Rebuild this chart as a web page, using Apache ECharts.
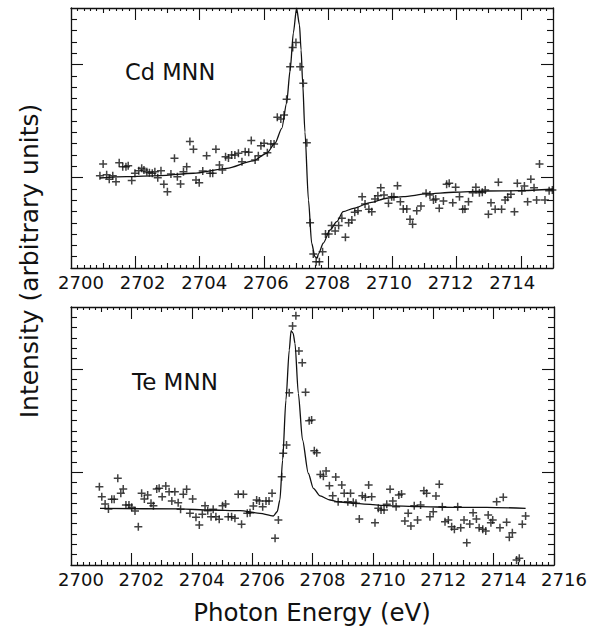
<!DOCTYPE html>
<html><head><meta charset="utf-8">
<script src="https://cdn.jsdelivr.net/npm/echarts@6/dist/echarts.min.js"></script>
<style>html,body{margin:0;padding:0;background:#fff}#c{width:600px;height:632px}</style>
</head><body><div id="c"></div>
<script>
// ---------- Cd MNN (top panel) ----------
const cdEnergy = [2700.90,2701.00,2701.11,2701.19,2701.30,2701.40,2701.50,2701.61,2701.71,2701.78,
2701.89,2701.99,2702.11,2702.20,2702.27,2702.36,2702.44,2702.53,2702.61,2702.70,
2702.80,2702.89,2703.00,2703.11,2703.22,2703.31,2703.41,2703.50,2703.60,2703.70,
2703.81,2703.89,2703.99,2704.10,2704.22,2704.33,2704.41,2704.51,2704.62,2704.71,
2704.81,2704.90,2705.00,2705.10,2705.21,2705.32,2705.42,2705.53,2705.61,2705.73,
2705.83,2705.91,2706.01,2706.11,2706.22,2706.32,2706.42,2706.53,2706.63,2706.71,
2706.82,2706.90,2707.00,2707.13,2707.23,2707.34,2707.44,2707.54,2707.63,2707.73,2707.83,
2707.92,2708.02,2708.11,2708.22,2708.33,
2708.43,2708.54,2708.64,2708.74,2708.83,2708.93,2709.06,2709.15,2709.27,2709.36,
2709.46,2709.55,2709.64,2709.74,2709.88,2709.98,2710.05,2710.16,2710.25,2710.34,
2710.45,2710.55,2710.63,2710.76,2710.89,2711.05,2711.17,2711.28,2711.35,2711.46,
2711.59,2711.69,2711.77,2711.88,2711.97,2712.09,2712.19,2712.26,2712.37,2712.50,
2712.60,2712.71,2712.80,2712.89,2712.99,2713.07,2713.20,2713.30,2713.40,2713.51,
2713.59,2713.69,2713.80,2713.89,2714.03,2714.11,2714.21,2714.31,2714.41,2714.49,
2714.58,2714.75,2714.88,2714.98];
const cdIntensity = [8.17,9.20,8.26,7.85,8.17,7.64,9.32,8.96,8.96,9.05,
7.73,8.38,8.61,8.82,8.67,8.52,8.43,8.38,8.52,7.99,
8.61,7.41,6.75,8.32,9.71,8.08,7.43,8.52,8.96,11.18,
10.50,7.79,7.55,8.58,9.94,8.38,8.38,10.50,9.12,8.67,
9.85,9.73,10.00,10.00,10.15,9.41,10.29,10.24,11.27,9.56,
9.94,10.82,11.04,10.20,10.97,10.97,13.34,13.19,13.54,14.93,
17.81,19.50,19.94,17.81,16.35,11.09,4.01,1.24,0.56,0.56,1.44,
3.01,3.01,3.76,3.27,3.76,
4.40,2.72,4.01,4.25,4.93,5.07,6.31,5.66,5.19,4.98,
6.11,6.40,7.11,6.46,5.73,6.31,6.31,7.28,5.87,5.22,
5.22,4.31,3.87,5.07,5.49,6.61,6.46,6.02,6.11,5.28,
5.93,7.41,7.50,5.78,7.14,6.31,5.19,5.22,5.87,6.66,
7.14,6.66,6.70,6.90,4.75,5.78,5.19,7.58,5.19,6.02,
6.26,6.52,4.98,7.50,6.81,7.26,5.87,7.85,7.11,6.02,
9.20,6.02,6.84,6.90];
const cdFitEnergy = [2700.90,2701.73,2702.77,2703.81,2704.85,2705.67,2706.09,2706.35,2706.56,2706.71,
2706.82,2706.92,2707.02,2707.11,2707.16,2707.21,2707.28,2707.39,2707.49,2707.59,2707.66,2707.70,
2707.85,2708.06,2708.27,2708.47,2708.79,2709.31,2709.83,2710.34,2711.07,2711.90,2712.94,2713.97,2715.00];
const cdFitIntensity = [7.96,8.08,8.17,8.38,8.82,9.47,10.15,11.04,12.36,14.58,
17.52,20.80,22.98,21.50,19.29,16.37,12.04,6.02,2.19,1.00,0.88,1.24,
2.19,3.36,4.10,4.98,5.28,5.78,6.17,6.31,6.55,6.70,6.81,6.84,6.99];

// ---------- Te MNN (bottom panel) ----------
const teEnergy = [2700.94,2701.02,2701.13,2701.24,2701.35,2701.43,2701.55,2701.65,2701.73,2701.82,
2701.92,2702.01,2702.12,2702.23,2702.34,2702.43,2702.54,2702.65,2702.73,2702.84,
2702.92,2703.02,2703.14,2703.25,2703.34,2703.44,2703.55,2703.63,2703.72,2703.83,
2703.94,2704.03,2704.14,2704.25,2704.35,2704.44,2704.53,2704.64,2704.71,2704.80,
2704.91,2705.02,2705.12,2705.21,2705.32,2705.43,2705.54,2705.65,2705.71,2705.84,
2705.93,2706.04,2706.15,2706.24,2706.35,2706.46,2706.56,2706.66,2706.76,2706.87,
2706.98,2707.03,2707.14,2707.23,2707.34,2707.45,2707.55,2707.66,2707.77,2707.89,
2707.97,2708.06,2708.14,2708.26,2708.36,2708.45,2708.56,2708.67,2708.77,2708.85,
2708.97,2709.05,2709.17,2709.26,2709.35,2709.44,2709.55,2709.65,2709.75,2709.86,
2709.96,2710.07,2710.18,2710.27,2710.37,2710.46,2710.57,2710.66,2710.77,2710.86,
2710.95,2711.06,2711.17,2711.26,2711.37,2711.48,2711.58,2711.69,2711.78,2711.89,
2712.00,2712.09,2712.20,2712.30,2712.39,2712.50,2712.61,2712.70,2712.81,2712.91,
2713.02,2713.11,2713.21,2713.32,2713.43,2713.52,2713.64,2713.74,2713.82,2713.91,
2713.97,2714.10,2714.21,2714.32,2714.43,2714.52,2714.62,2714.76,2714.85,2714.95,2715.06];
const teIntensity = [7.59,6.62,5.91,5.43,6.37,6.37,8.40,6.95,7.36,5.81,
5.81,5.59,5.23,3.71,6.95,6.40,6.78,5.98,5.75,7.36,
7.43,6.62,7.66,7.10,6.20,7.10,6.04,5.40,6.85,7.34,
5.01,6.40,4.62,3.88,4.91,5.75,5.26,4.68,5.40,4.68,
4.43,5.75,5.91,4.68,4.68,4.53,6.85,3.94,6.85,5.01,
5.07,5.72,6.30,6.20,5.65,6.20,6.20,6.95,2.59,4.36,
8.56,10.82,11.63,16.70,23.16,24.16,20.74,19.60,16.73,13.98,
14.05,11.08,10.88,8.77,8.59,9.11,7.68,6.72,8.53,6.13,
7.75,6.95,6.13,6.95,6.08,5.98,4.46,6.72,6.56,7.75,
6.62,4.10,5.49,5.33,5.33,5.88,7.34,6.20,5.65,6.78,
6.88,4.26,5.01,3.78,5.75,4.36,5.81,7.20,6.95,4.68,
5.16,6.69,7.82,5.65,4.20,4.36,3.71,3.46,5.65,3.61,
4.36,2.16,3.97,5.07,4.46,3.61,3.46,3.29,4.84,4.10,
4.36,6.13,3.61,6.56,4.14,2.68,3.13,0.48,0.65,3.94,4.75];
const teFitEnergy = [2700.96,2703.61,2704.60,2705.60,2706.26,2706.70,2706.83,2706.92,2707.01,2707.12,
2707.23,2707.29,2707.36,2707.42,2707.53,2707.67,2707.86,2708.03,2708.25,2708.58,
2708.85,2709.35,2710.46,2711.56,2712.66,2713.77,2715.06];
const teFitIntensity = [5.49,5.43,5.33,5.26,5.01,4.75,5.16,6.30,10.17,15.99,
20.83,22.70,22.45,21.48,16.64,12.11,8.89,7.43,6.69,6.30,
6.13,5.98,5.75,5.65,5.59,5.59,5.49];

// ---------- tick labels ----------
const topTickLabels = [2700,2702,2704,2706,2708,2710,2712,2714];
const bottomTickLabels = [2700,2702,2704,2706,2708,2710,2712,2714,2716];
const topYMajor = [8,18];
const bottomYMajor = [9,19];

const INK = '#111111';
const FONT = 'DejaVu Sans';

function seq(a, b, step) { const out=[]; const n=Math.round((b-a)/step); for (let i=0;i<=n;i++) out.push(+(a+i*step).toFixed(4)); return out; }

const xAxis = [], yAxis = [];
function tickAxis(list, base, pos, vals, len, showLine) {
  list.push(Object.assign({
    type:'value', position:pos, splitLine:{show:false}, axisLabel:{show:false},
    axisLine:{show:showLine, onZero:false, lineStyle:{color:INK, width:1.3}},
    axisTick:{show:true, inside:true, length:len, customValues:vals, lineStyle:{color:INK, width:1.1}}
  }, base));
  return list.length - 1;
}
function buildPanel(g, xMin, xMax, yMax, yMajor) {
  const bx = {gridIndex:g, min:xMin, max:xMax};
  const by = {gridIndex:g, min:0, max:yMax};
  const xMaj = seq(xMin, xMax, 2).filter(v => v <= xMax);
  const xMed = seq(xMin + 1, xMax, 2).filter(v => v <= xMax);
  const xMinor = seq(xMin, xMax, 0.2).filter(v => Math.abs(v - Math.round(v)) > 1e-6);
  const yMinor = seq(1, yMax - 1, 1).filter(v => yMajor.indexOf(v) < 0);
  const mainX = tickAxis(xAxis, bx, 'bottom', xMaj, 12, true);
  tickAxis(xAxis, bx, 'bottom', xMed, 5, false);
  tickAxis(xAxis, bx, 'bottom', xMinor, 3, false);
  tickAxis(xAxis, bx, 'top', xMaj, 12, true);
  tickAxis(xAxis, bx, 'top', xMed, 5, false);
  tickAxis(xAxis, bx, 'top', xMinor, 3, false);
  const mainY = tickAxis(yAxis, by, 'left', yMajor, 12, true);
  tickAxis(yAxis, by, 'left', yMinor, 6, false);
  tickAxis(yAxis, by, 'right', yMajor, 12, true);
  tickAxis(yAxis, by, 'right', yMinor, 6, false);
  return {x: mainX, y: mainY};
}
const p0 = buildPanel(0, 2700, 2715, 23, topYMajor);
const p1 = buildPanel(1, 2700, 2716, 25, bottomYMajor);

const labelStyle = {show:true, fontSize:18, fontFamily:FONT, color:INK, margin:5, formatter: v => String(Math.round(v))};
// top panel tick labels (printed slightly offset from the ticks in the original figure)
xAxis.push({type:'value', gridIndex:0, position:'bottom', min:2699.675, max:2715.325,
  axisLine:{show:false, onZero:false}, axisTick:{show:false}, splitLine:{show:false},
  axisLabel:Object.assign({customValues: topTickLabels}, labelStyle)});
xAxis.push({type:'value', gridIndex:1, position:'bottom', min:2700, max:2716,
  axisLine:{show:false, onZero:false}, axisTick:{show:false}, splitLine:{show:false},
  axisLabel:Object.assign({customValues: bottomTickLabels, padding:[0,0,0,20]}, labelStyle)});

const cross = 'path://M3.25,0H4.75V3.25H8V4.75H4.75V8H3.25V4.75H0V3.25H3.25Z';
const pairs = (xs, ys) => xs.map((x, i) => [x, ys[i]]);

const series = [
  {type:'scatter', xAxisIndex:p0.x, yAxisIndex:p0.y, data:pairs(cdEnergy, cdIntensity), symbol:cross, symbolSize:8, itemStyle:{color:INK}, z:3},
  {type:'line', xAxisIndex:p0.x, yAxisIndex:p0.y, data:pairs(cdFitEnergy, cdFitIntensity), showSymbol:false, smooth:0.25, smoothMonotone:'x', lineStyle:{color:INK, width:1.3}, z:4},
  {type:'scatter', xAxisIndex:p1.x, yAxisIndex:p1.y, data:pairs(teEnergy, teIntensity), symbol:cross, symbolSize:8, itemStyle:{color:INK}, z:3},
  {type:'line', xAxisIndex:p1.x, yAxisIndex:p1.y, data:pairs(teFitEnergy, teFitIntensity), showSymbol:false, smooth:0.25, smoothMonotone:'x', lineStyle:{color:INK, width:1.3}, z:4}
];

const chart = echarts.init(document.getElementById('c'), null, {renderer:'svg'});
chart.setOption({
  animation:false,
  backgroundColor:'#fff',
  grid:[
    {left:71, top:8, width:482, height:260},
    {left:71, top:307, width:483, height:258}
  ],
  xAxis, yAxis, series,
  graphic:[
    {type:'text', x:125, y:72, style:{text:'Cd MNN', fontSize:22.5, fontFamily:FONT, fill:INK, align:'left', verticalAlign:'middle'}},
    {type:'text', x:132, y:382, style:{text:'Te MNN', fontSize:23, fontFamily:FONT, fill:INK, align:'left', verticalAlign:'middle'}},
    {type:'text', x:29, y:261, rotation:Math.PI/2, style:{text:'Intensity (arbitrary units)', fontSize:25, fontFamily:FONT, fill:INK, align:'center', verticalAlign:'middle'}},
    {type:'text', x:312, y:612, style:{text:'Photon Energy (eV)', fontSize:24.5, fontFamily:FONT, fill:INK, align:'center', verticalAlign:'middle'}}
  ]
});
</script></body></html>
